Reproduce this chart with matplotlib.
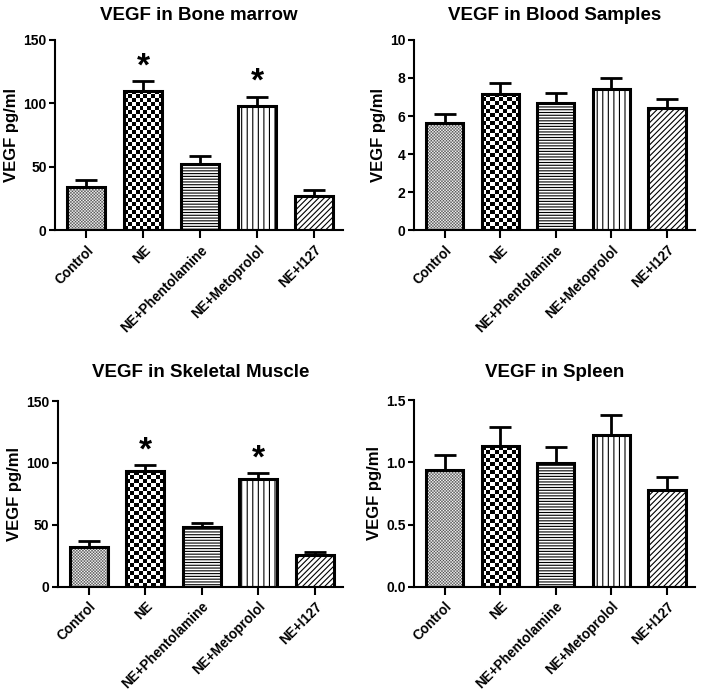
import numpy as np
import matplotlib
matplotlib.use("Agg")
import matplotlib.pyplot as plt

plt.rcParams['font.family'] = ['Liberation Sans', 'DejaVu Sans']
plt.rcParams['font.weight'] = 'bold'
plt.rcParams['hatch.linewidth'] = 0.8

categories = ['Control', 'NE', 'NE+Phentolamine', 'NE+Metoprolol', 'NE+I127']

bone_mean = [34.3, 109.6, 52.6, 98.3, 27.4]
bone_err = [5.0, 8.0, 5.8, 7.1, 4.2]
bone_sig = ['', '*', '', '*', '']

blood_mean = [5.65, 7.15, 6.68, 7.44, 6.43]
blood_err = [0.45, 0.6, 0.52, 0.58, 0.48]
blood_sig = ['', '', '', '', '']

muscle_mean = [32.3, 93.6, 47.8, 86.8, 25.9]
muscle_err = [4.7, 4.8, 3.9, 4.7, 1.9]
muscle_sig = ['', '*', '', '*', '']

spleen_mean = [0.943, 1.135, 0.997, 1.225, 0.775]
spleen_err = [0.12, 0.15, 0.127, 0.16, 0.105]
spleen_sig = ['', '', '', '', '']

fig = plt.figure(figsize=(7.04, 7.00), dpi=100)


def checker_fill(ax, bar, cell_px, dark):
    # checkerboard texture clipped to the bar
    x0, y0 = bar.get_x(), bar.get_y()
    x1, y1 = x0 + bar.get_width(), y0 + bar.get_height()
    p0 = ax.transData.transform((x0, y0))
    p1 = ax.transData.transform((x1, y1))
    nc = max(1, int(round(abs(p1[0] - p0[0]) / cell_px)))
    nr = max(1, int(round(abs(p1[1] - p0[1]) / cell_px)))
    ii, jj = np.indices((nr, nc))
    arr = ((ii + jj) % 2) * (1 - dark) + dark
    im = ax.imshow(arr, extent=(x0, x1, y0, y1), cmap='gray', vmin=0, vmax=1,
                   interpolation='antialiased', aspect='auto', zorder=2, origin='lower')
    im.set_clip_path(bar)


def panel(rect, title, means, errs, sig, ymax, yticks, ylabels, title_pad):
    ax = fig.add_axes(rect)
    x = np.arange(len(categories))
    ax.set_xlim(-0.55, 4.5)
    ax.set_ylim(0, ymax)
    hatches = ['', '', '------', '|||', '//////']
    bars = ax.bar(x, means, width=0.67, facecolor='none', edgecolor='black',
                  linewidth=2.2, zorder=3)
    for b, h in zip(bars, hatches):
        b.set_hatch(h)
    ax.errorbar(x, means, yerr=[np.zeros(len(errs)), errs], fmt='none',
                ecolor='black', elinewidth=2, capsize=8, capthick=2, zorder=4)
    checker_fill(ax, bars[0], 1.5, 0.3)
    checker_fill(ax, bars[1], 4, 0.0)
    ax.set_xlim(-0.55, 4.5)
    ax.set_ylim(0, ymax)
    for i, s in enumerate(sig):
        if s:
            ax.text(x[i], means[i] + errs[i] + ymax * 0.075, s, ha='center',
                    va='center', fontsize=24, fontweight='bold')
    ax.set_yticks(yticks)
    ax.set_yticklabels(ylabels, fontsize=10, fontweight='bold')
    ax.set_xticks(x)
    ax.set_xticklabels(categories, rotation=45, ha='right', rotation_mode='anchor',
                       fontsize=9.8, fontweight='bold')
    ax.tick_params(axis='x', length=6, width=1.5, pad=3)
    ax.tick_params(axis='y', length=4, width=1.5, pad=2)
    for s in ['top', 'right']:
        ax.spines[s].set_visible(False)
    for s in ['left', 'bottom']:
        ax.spines[s].set_linewidth(1.5)
    ax.set_ylabel('VEGF pg/ml', fontsize=12, fontweight='bold', labelpad=3)
    ax.set_title(title, fontsize=13.5, fontweight='bold', pad=title_pad)
    return ax


panel([0.078, 0.671, 0.409, 0.272], 'VEGF in Bone marrow', bone_mean, bone_err,
      bone_sig, 150, [0, 50, 100, 150], ['0', '50', '100', '150'], 14)
panel([0.588, 0.671, 0.399, 0.272], 'VEGF in Blood Samples', blood_mean, blood_err,
      blood_sig, 10, [0, 2, 4, 6, 8, 10], ['0', '2', '4', '6', '8', '10'], 14)
panel([0.082, 0.162, 0.405, 0.265], 'VEGF in Skeletal Muscle', muscle_mean, muscle_err,
      muscle_sig, 150, [0, 50, 100, 150], ['0', '50', '100', '150'], 17)
panel([0.588, 0.162, 0.399, 0.266], 'VEGF in Spleen', spleen_mean, spleen_err,
      spleen_sig, 1.5, [0, 0.5, 1.0, 1.5], ['0.0', '0.5', '1.0', '1.5'], 17)

fig.savefig('out.png', dpi=100)
